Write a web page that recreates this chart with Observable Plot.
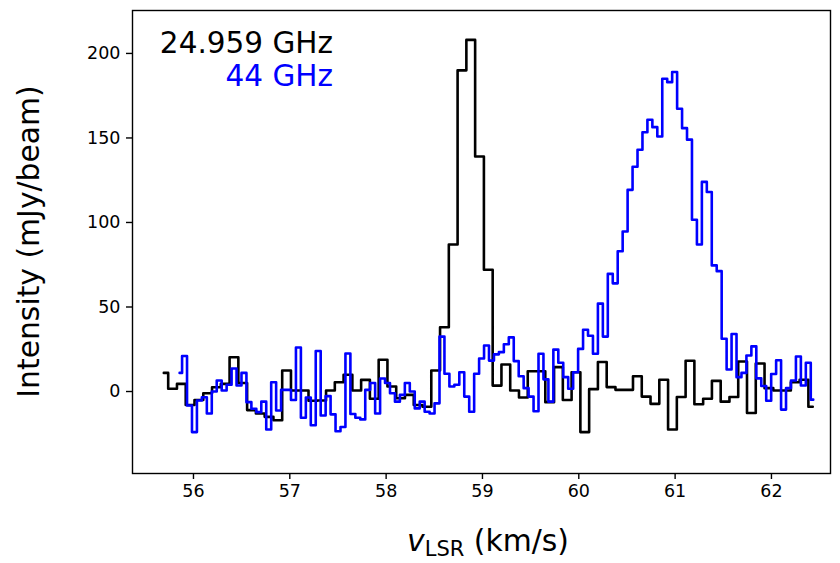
<!DOCTYPE html>
<html><head><meta charset="utf-8">
<script src="https://cdn.jsdelivr.net/npm/d3@7"></script>
<script src="https://cdn.jsdelivr.net/npm/@observablehq/plot@0.6"></script>
<style>body{margin:0;background:#fff} svg{display:block}</style>
</head><body><div id="chart"></div>
<script>
// 24.959 GHz spectrum (black): channel grid and intensities (mJy/beam)
const blackStart = 55.692, blackStep = 0.09104;
const blackIntensity = [11, 1.6, 4.5, -8, -5, -1, 2.5, 4.5, 20.3, 5,
  -11, -13, -15, -17, 12.4, 0.6, 0.6, -5.5, -5.3, 0.6,
  5.5, 9.9, 0.6, 6.9, -4.3, 18.8, 3, -4, -2, -8,
  -9, 12.4, 38, 87, 190, 208, 139, 72, 3.5, 16,
  0.6, -3.5, 12, 12, -6.3, 14.4, -5, 11.4, -24, 1.4,
  17.5, 2.6, 1, 1, 9, -3, -7.3, 7, -22.5, -3.2,
  18.2, -7.5, -4.3, 6.3, -6, -3.2, 17.8, -12.7, 16.6, 2,
  0.6, 0.6, 5.5, 7, -9];
// 44 GHz spectrum (blue)
const blueStart = 55.856, blueStep = 0.05139;
const blueIntensity = [11, 21, -8.3, -24, -5.3, -3.4, -13, 0, 6.5, 0.6,
  4, 13.6, 3.6, 11, -6.3, -10.2, -12.2, -6, -22.5, 5.5,
  -11.2, 1, 1, -5, 26, -15.5, -3.5, -20, 24, -14.2,
  -2.7, -13.5, -23.5, -21, 22.5, -13.3, -15.5, -16.5, 1, 5,
  -13, 7.7, 5, -1, -6, -2, 5, 0, -10, -6,
  -12, -13, -7, 32.5, 10.5, 3, 4, 11.4, -3, -12,
  10.5, 19.5, 27.2, 18.3, 22, 23.3, 28, 32, 18, 9,
  2, -3, -11.7, 22.3, 7.2, -6, 24.8, 17, 8.5, 1.6,
  11.4, 25.2, 36.5, 33, 22.3, 52, 32.5, 69.6, 64, 83,
  94.7, 119.3, 133, 143, 153.4, 160.8, 156.4, 150.9, 185, 183,
  189, 167.3, 155.8, 149, 101.6, 87, 124, 118, 74.6, 71.2,
  31.2, 13, 34, 8.5, 11, 21.3, 26.7, 7.8, 3.3, -5.5,
  10.4, 18.5, -10.7, 2, 6.5, 20.7, 3.6, 17, -4.8];
const xTicks = [56, 57, 58, 59, 60, 61, 62];
const yTicks = [0, 50, 100, 150, 200];
const seriesLabels = ["24.959 GHz", "44 GHz"];
const seriesColors = ["black", "blue"];

const black = blackIntensity.map((y, i) => ({v: blackStart + i * blackStep, y}));
const blue = blueIntensity.map((y, i) => ({v: blueStart + i * blueStep, y}));

const plot = Plot.plot({
  width: 840, height: 563,
  marginLeft: 132, marginRight: 10, marginTop: 10, marginBottom: 90,
  style: {fontFamily: "DejaVu Sans", fontSize: "17.5px", color: "black", background: "white"},
  x: {domain: [55.367, 62.613]},
  y: {domain: [-48.5, 225.4]},
  marks: [
    Plot.line(black, {x: "v", y: "y", curve: "step", stroke: seriesColors[0], strokeWidth: 2.6}),
    Plot.line(blue, {x: "v", y: "y", curve: "step", stroke: seriesColors[1], strokeWidth: 2.6}),
    Plot.axisX({ticks: xTicks, tickSize: 6, tickPadding: 5, label: null, strokeWidth: 1.4, tickFormat: d => String(d)}),
    Plot.axisY({ticks: yTicks, tickSize: 6, tickPadding: 6, label: null, strokeWidth: 1.4, tickFormat: d => String(d)}),
    Plot.frame({stroke: "black", strokeWidth: 1.4})
  ]
});
document.getElementById("chart").appendChild(plot);

const svg = d3.select(plot);
const F = "DejaVu Sans";
// y label
svg.append("text")
  .attr("transform", "translate(39,241.5) rotate(-90)")
  .attr("text-anchor", "middle")
  .attr("font-family", F).attr("font-size", 29.8).attr("fill", "black")
  .text("Intensity (mJy/beam)");
// x label
const xl = svg.append("text")
  .attr("x", 488).attr("y", 551)
  .attr("text-anchor", "middle")
  .attr("font-family", F).attr("font-size", 29.8).attr("fill", "black");
xl.append("tspan").attr("font-style", "italic").text("v");
xl.append("tspan").attr("font-size", 21).attr("dy", 5).text("LSR");
xl.append("tspan").attr("dy", -5).text(" (km/s)");
// legend
seriesLabels.forEach((t, i) => {
  svg.append("text")
    .attr("x", 333).attr("y", 53 + i * 33)
    .attr("text-anchor", "end")
    .attr("font-family", F).attr("font-size", 29.5).attr("fill", seriesColors[i])
    .text(t);
});
</script>
</body></html>
